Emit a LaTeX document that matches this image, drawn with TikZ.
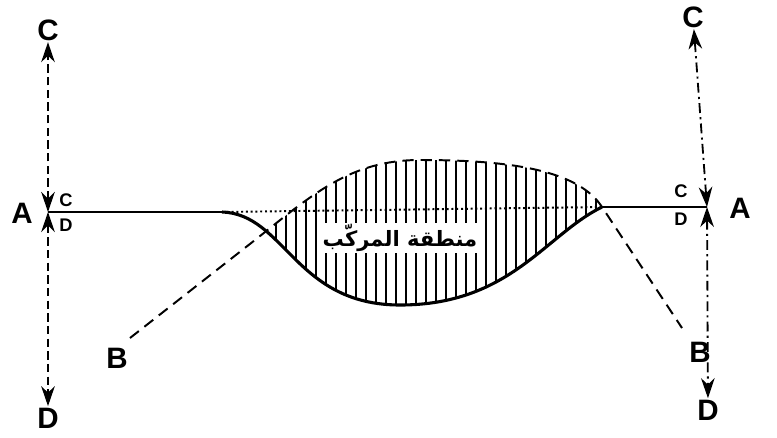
\documentclass[tikz,border=0pt]{standalone}
\usepackage{fontspec}
\setmainfont{Liberation Sans}
\newfontfamily\arabicfont[Script=Arabic]{DejaVu Sans}
\TeXXeTstate=1
\usetikzlibrary{arrows.meta, positioning}
\tikzset{
biglabel/.style={
font=\fontsize{21}{23}\selectfont\bfseries,
inner sep=1pt
},
smalllabel/.style={
font=\fontsize{13}{14}\selectfont\bfseries,
inner sep=1pt
},
baseline/.style={
line width=1.5pt,
draw=black
},
lowcurve/.style={
line width=2.2pt,
draw=black
},
upcurve/.style={
line width=1.4pt,
dash pattern=on 8pt off 5pt,
draw=black
},
levelline/.style={
line width=1.4pt,
dotted,
draw=black
},
hatch/.style={
line width=0.9pt,
draw=black
},
dimarrow/.style={
{Stealth[length=5mm,width=3.4mm]}-{Stealth[length=5mm,width=3.4mm]},
line width=1.3pt,
dash pattern=on 6pt off 3pt
},
dotarrow/.style={
{Stealth[length=5mm,width=3.4mm]}-{Stealth[length=5mm,width=3.4mm]},
line width=1.3pt,
dash pattern=on 7pt off 3pt on 1.5pt off 3pt
}
}
\begin{document}
\begin{tikzpicture}[x=0.025cm, y=-0.025cm]
\useasboundingbox (0,0) rectangle (777,437);

\coordinate (aLeft) at (48,212);
\coordinate (aRight) at (707,207);
\coordinate (bendLeft) at (222,212);
\coordinate (bendRight) at (602,207);
\coordinate (bottom) at (400,305);
\coordinate (peak) at (420,160);
\coordinate (tailLeft) at (130,338);
\coordinate (tailRight) at (682,328);

\node[biglabel] (cLeft) at (48,30) {C};
\node[biglabel] (dLeft) at (48,418) {D};
\node[biglabel] (cRight) at (693,17) {C};
\node[biglabel] (dRight) at (708,410) {D};
\node[biglabel] (aLeftLabel) at (22,213) {A};
\node[biglabel] (aRightLabel) at (740,208) {A};
\node[biglabel] (bLeft) at (117,358) {B};
\node[biglabel] (bRight) at (700,352) {B};
\node[smalllabel] (cLeftSmall) at (66,200) {C};
\node[smalllabel] (dLeftSmall) at (66,225) {D};
\node[smalllabel] (cRightSmall) at (681,191) {C};
\node[smalllabel] (dRightSmall) at (681,219) {D};

\begin{scope}
\clip (tailLeft) -- (255,240) .. controls (312,195) and (350,160) .. (peak)
  .. controls (510,160) and (578,170) .. (bendRight) -- (tailRight) -- (700,437) -- (100,437) -- cycle;
\clip (bendLeft) .. controls (285,214) and (295,305) .. (bottom)
  .. controls (510,305) and (545,235) .. (bendRight) -- (700,0) -- (100,0) -- cycle;
\foreach \x in {266,276,...,600}
  \draw[hatch] (\x,0) -- (\x,437);
\end{scope}

\draw[levelline] (bendLeft) -- (bendRight);
\draw[upcurve] (tailLeft) -- (255,240) .. controls (312,195) and (350,160) .. (peak)
  .. controls (510,160) and (578,170) .. (bendRight) -- (tailRight);
\draw[baseline] (aLeft) -- (bendLeft);
\draw[lowcurve] (bendLeft) .. controls (285,214) and (295,305) .. (bottom)
  .. controls (510,305) and (545,235) .. (bendRight);
\draw[baseline] (bendRight) -- (aRight);

\node[fill=white, inner sep=1pt, font=\fontsize{15}{17}\selectfont\bfseries] (region) at (400,238)
  {\arabicfont\beginR منطقة المركّب\endR};

\draw[dimarrow] (aLeft) -- (cLeft);
\draw[dimarrow] (aLeft) -- (dLeft);
\draw[dotarrow] (aRight) -- (cRight);
\draw[dotarrow] (aRight) -- (dRight);

\end{tikzpicture}
\end{document}
